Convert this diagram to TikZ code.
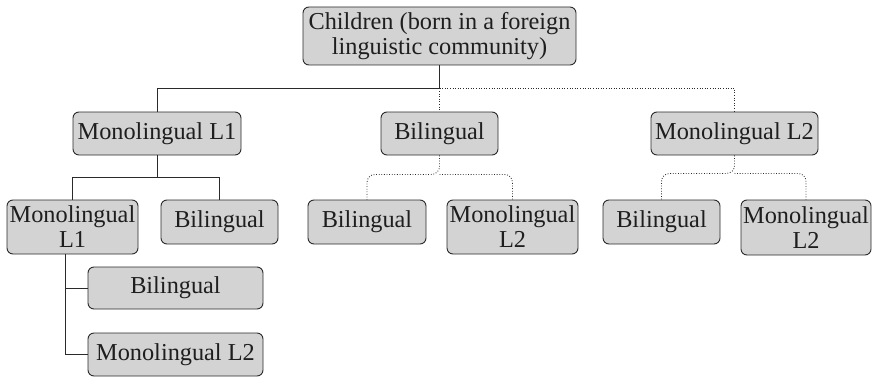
\documentclass[tikz,border=0pt]{standalone}
\usepackage{fontspec}
\setmainfont{Liberation Serif}
\usetikzlibrary{calc}
\definecolor{boxfill}{HTML}{D3D3D3}
\definecolor{boxline}{HTML}{2A2A2A}
\definecolor{txt}{HTML}{1E1E1E}
\begin{document}
\begin{tikzpicture}[x=1pt,y=-1pt,
  box/.style={draw=boxline,line width=0.9pt,fill=boxfill,rounded corners=6pt,
    inner sep=0pt,align=center,text=txt,
    font=\fontsize{24.3}{25}\selectfont},
  solidline/.style={draw=boxline,line width=0.9pt},
  dotline/.style={draw=boxline,line width=0.9pt,dash pattern=on 0.8pt off 1.8pt},
  curved/.style={rounded corners=8pt}]
\useasboundingbox (0,0) rectangle (874,377);
% level 0
\node[box,minimum width=273pt,minimum height=58pt] (root) at (439.5,36) {Children (born in a foreign\\linguistic community)};
% level 1
\node[box,minimum width=168pt,minimum height=43pt] (m1) at (157,133.5) {Monolingual L1};
\node[box,minimum width=117pt,minimum height=43pt] (b1) at (439.5,133.5) {Bilingual};
\node[box,minimum width=167pt,minimum height=43pt] (m2) at (734.5,133.5) {Monolingual L2};
% level 2
\node[box,minimum width=131pt,minimum height=54pt] (a1) at (72.5,227) {Monolingual\\L1};
\node[box,minimum width=117pt,minimum height=44pt] (a2) at (219.5,222) {Bilingual};
\node[box,minimum width=118pt,minimum height=44pt] (c1) at (367,222) {Bilingual};
\node[box,minimum width=131pt,minimum height=54pt] (c2) at (512.5,227) {Monolingual\\L2};
\node[box,minimum width=117pt,minimum height=44pt] (d1) at (661.5,222) {Bilingual};
\node[box,minimum width=130pt,minimum height=55pt] (d2) at (806,227.5) {Monolingual\\L2};
% level 3
\node[box,minimum width=175pt,minimum height=42pt] (e1) at (175.5,288) {Bilingual};
\node[box,minimum width=175pt,minimum height=43pt] (e2) at (175.5,354.5) {Monolingual L2};
% connectors
\coordinate (rj) at ($(root.south)+(0,23)$);
\draw[solidline] (root.south) -- (rj) -| (m1.north);
\draw[dotline] (rj) -- (b1.north);
\draw[dotline] (rj) -| (m2.north);
\coordinate (mj) at ($(m1.south)+(0,22)$);
\draw[solidline] (m1.south) -- (mj) -| (a1.north);
\draw[solidline] (mj) -| (a2.north);
\coordinate (bj) at ($(b1.south)+(0,19)$);
\draw[dotline,curved] (b1.south) -- (bj) -| (c1.north);
\draw[dotline,curved] (bj) -| (c2.north);
\coordinate (nj) at ($(m2.south)+(0,18)$);
\draw[dotline,curved] (m2.south) -- (nj) -| (d1.north);
\draw[dotline,curved] (nj) -| (d2.north);
\coordinate (at) at ($(a1.south)+(-7.5,0)$);
\draw[solidline] (at) |- (e2.west);
\draw[solidline] (e1.west) -| (at);
\end{tikzpicture}
\end{document}
